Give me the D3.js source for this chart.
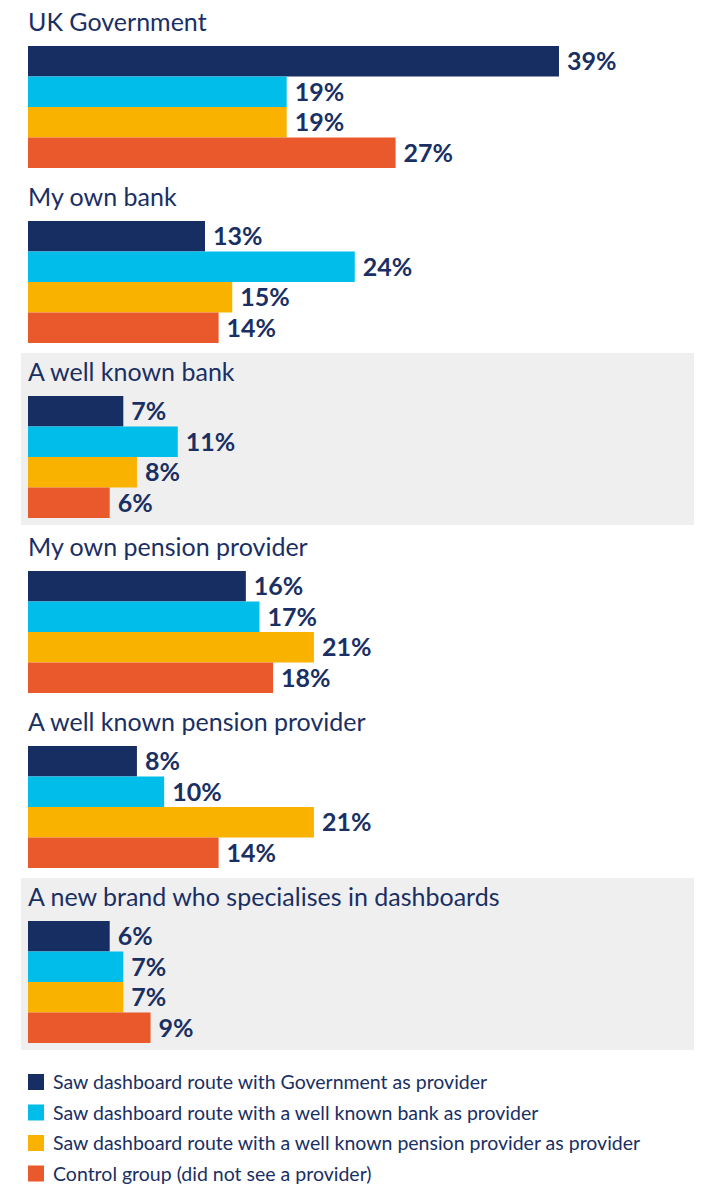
<!DOCTYPE html>
<html>
<head>
<meta charset="utf-8">
<script src="https://cdn.jsdelivr.net/npm/d3@7"></script>
<style>
  html, body { margin: 0; padding: 0; background: #ffffff; }
  svg { display: block; }
</style>
</head>
<body>
<div id="chart"></div>
<script>
// Provider categories (one group of bars per category)
const categories = [
  "UK Government",
  "My own bank",
  "A well known bank",
  "My own pension provider",
  "A well known pension provider",
  "A new brand who specialises in dashboards"
];

// Categories drawn on a grey band
const shadedCategories = ["A well known bank", "A new brand who specialises in dashboards"];

// Series names (legend entries)
const seriesNames = [
  "Saw dashboard route with Government as provider",
  "Saw dashboard route with a well known bank as provider",
  "Saw dashboard route with a well known pension provider as provider",
  "Control group (did not see a provider)"
];

// Percentages per series, in category order
const govValues     = [39, 13, 7, 16, 8, 6];
const bankValues    = [19, 24, 11, 17, 10, 7];
const pensionValues = [19, 15, 8, 21, 21, 7];
const controlValues = [27, 14, 6, 18, 14, 9];

const seriesValues = [govValues, bankValues, pensionValues, controlValues];
const seriesColors = ["#172e63", "#00bde9", "#f9b200", "#e9592b"];

const width = 721, height = 1189;
const textColor = "#1a2f63";
const fontFamily = "Lato, 'Noto Sans', sans-serif";

const svg = d3.select("#chart").append("svg")
  .attr("width", width)
  .attr("height", height);

// Vertical placement of each category block (bar block top)
const groupY = d3.scaleBand()
  .domain(categories)
  .range([46, 46 + 175 * categories.length])
  .paddingInner(0)
  .paddingOuter(0);

// Bars within a block
const barY = d3.scaleBand()
  .domain(d3.range(seriesNames.length))
  .range([0, 122])
  .padding(0);

// Horizontal value scale
const x = d3.scaleLinear()
  .domain([0, 40])
  .range([28, 572.6]);

const groups = svg.selectAll("g.category")
  .data(categories)
  .join("g")
  .attr("class", "category")
  .attr("transform", d => `translate(0,${groupY(d)})`);

// Grey background bands
groups.filter(d => shadedCategories.includes(d))
  .append("rect")
  .attr("x", 21)
  .attr("y", -43)
  .attr("width", 673)
  .attr("height", 172)
  .attr("fill", "#efefef");

// Category titles
groups.append("text")
  .attr("x", 28)
  .attr("y", -15)
  .attr("fill", textColor)
  .attr("font-family", fontFamily)
  .attr("font-size", 25)
  .text(d => d);

// Bars and value labels
groups.each(function(cat, ci) {
  const g = d3.select(this);
  const rows = seriesValues.map((vals, si) => ({ si, v: vals[ci] }));

  g.selectAll("rect.bar")
    .data(rows)
    .join("rect")
    .attr("class", "bar")
    .attr("x", x(0))
    .attr("y", d => barY(d.si))
    .attr("width", d => x(d.v) - x(0))
    .attr("height", barY.bandwidth())
    .attr("fill", d => seriesColors[d.si]);

  g.selectAll("text.value")
    .data(rows)
    .join("text")
    .attr("class", "value")
    .attr("x", d => x(d.v) + 8)
    .attr("y", d => barY(d.si) + barY.bandwidth() / 2)
    .attr("dy", "0.36em")
    .attr("fill", textColor)
    .attr("font-family", fontFamily)
    .attr("font-weight", 700)
    .attr("font-size", 25)
    .text(d => d.v + "%");
});

// Legend
const legend = svg.append("g")
  .attr("transform", "translate(28,1074)");

const legendRow = d3.scaleBand()
  .domain(d3.range(seriesNames.length))
  .range([0, 122]);

const items = legend.selectAll("g")
  .data(seriesNames)
  .join("g")
  .attr("transform", (d, i) => `translate(0,${legendRow(i)})`);

items.append("rect")
  .attr("width", 16)
  .attr("height", 16)
  .attr("fill", (d, i) => seriesColors[i]);

items.append("text")
  .attr("x", 25)
  .attr("y", 8)
  .attr("dy", "0.36em")
  .attr("fill", textColor)
  .attr("font-family", fontFamily)
  .attr("font-size", 19.5)
  .text(d => d);
</script>
</body>
</html>
